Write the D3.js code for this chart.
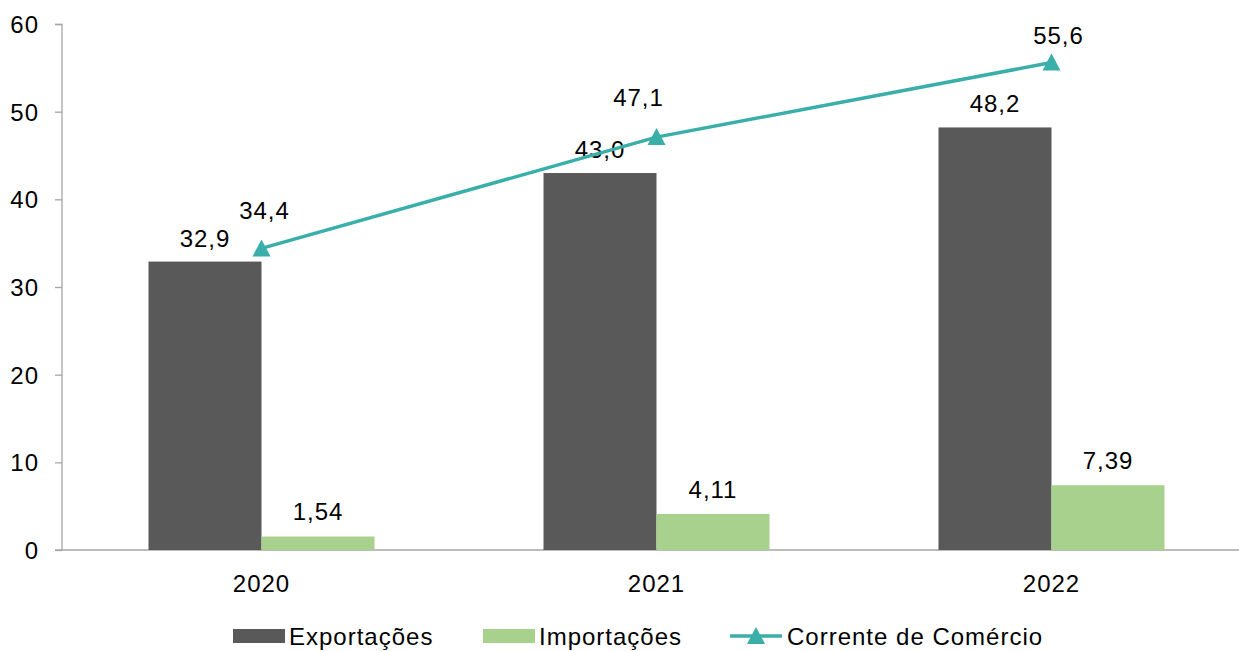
<!DOCTYPE html>
<html>
<head>
<meta charset="utf-8">
<script src="https://cdn.jsdelivr.net/npm/d3@7"></script>
<style>
  body { margin: 0; background: #fff; }
  svg text { font-family: "Liberation Sans", Arial, sans-serif; fill: #000; letter-spacing: 1px; }
</style>
</head>
<body>
<div id="chart"></div>
<script>
var anos = ["2020", "2021", "2022"];
var exportacoes = [32.9, 43.0, 48.2];
var importacoes = [1.54, 4.11, 7.39];
var corrente = [34.4, 47.1, 55.6];
var yTicks = [0, 10, 20, 30, 40, 50, 60];

var fmt1 = function(v) { return v.toFixed(1).replace(".", ","); };
var fmt2 = function(v) { return v.toFixed(2).replace(".", ","); };

var W = 1239, H = 651;
var margin = { top: 24, right: 0, bottom: 101, left: 62 };
var innerH = H - margin.top - margin.bottom;
var fs = "24px";

var svg = d3.select("#chart").append("svg")
    .attr("width", W)
    .attr("height", H);

var g = svg.append("g")
    .attr("transform", "translate(" + margin.left + "," + margin.top + ")");

var x = d3.scaleBand().domain(anos).range([2, 1187]).padding(0);
var y = d3.scaleLinear().domain([0, 60]).range([innerH, 0]);
var barW = 113;

// eixo y
var yAxis = g.append("g").call(d3.axisLeft(y).tickValues(yTicks).tickSize(7).tickPadding(16));
yAxis.selectAll("path, line").attr("stroke", "#a6a6a6").attr("stroke-width", 1.3);
yAxis.select("path").attr("d", "M-7,0.5H0V" + innerH);
yAxis.selectAll("text").style("font-size", fs).attr("dy", "0.35em");

// eixo x
var xAxis = g.append("g")
    .attr("transform", "translate(0," + innerH + ")")
    .call(d3.axisBottom(x).tickSize(0).tickPadding(25));
xAxis.select("path").attr("stroke", "#a6a6a6").attr("stroke-width", 1.3).attr("d", "M-7,0H1187");
xAxis.selectAll("text").style("font-size", fs);

// barras
g.selectAll(".exp").data(exportacoes).enter().append("rect")
    .attr("x", function(d, i) { return x(anos[i]) + x.bandwidth() / 2 - barW; })
    .attr("y", function(d) { return y(d); })
    .attr("width", barW)
    .attr("height", function(d) { return innerH - y(d); })
    .attr("fill", "#595959");

g.selectAll(".imp").data(importacoes).enter().append("rect")
    .attr("x", function(d, i) { return x(anos[i]) + x.bandwidth() / 2; })
    .attr("y", function(d) { return y(d); })
    .attr("width", barW)
    .attr("height", function(d) { return innerH - y(d); })
    .attr("fill", "#a9d18e");

g.selectAll(".expLbl").data(exportacoes).enter().append("text")
    .attr("x", function(d, i) { return x(anos[i]) + x.bandwidth() / 2 - barW / 2; })
    .attr("y", function(d) { return y(d) - 15; })
    .attr("text-anchor", "middle")
    .style("font-size", fs)
    .text(fmt1);

g.selectAll(".impLbl").data(importacoes).enter().append("text")
    .attr("x", function(d, i) { return x(anos[i]) + x.bandwidth() / 2 + barW / 2; })
    .attr("y", function(d) { return y(d) - 16; })
    .attr("text-anchor", "middle")
    .style("font-size", fs)
    .text(fmt2);

// linha
var cx = function(d, i) { return x(anos[i]) + x.bandwidth() / 2; };
var line = d3.line().x(cx).y(function(d) { return y(d); });
g.append("path").datum(corrente)
    .attr("d", line)
    .attr("fill", "none")
    .attr("stroke", "#3aaea9")
    .attr("stroke-width", 3.5);

var tri = "M0,-9L9,8L-9,8Z";
g.selectAll(".mk").data(corrente).enter().append("path")
    .attr("d", tri)
    .attr("fill", "#3aaea9")
    .attr("transform", function(d, i) { return "translate(" + cx(d, i) + "," + y(d) + ")"; });

// rótulos da linha (posição manual como no original)
var lblDx = [3, -18, 7];
var lblDy = [-29, -31, -19];
g.selectAll(".corLbl").data(corrente).enter().append("text")
    .attr("x", function(d, i) { return cx(d, i) + lblDx[i]; })
    .attr("y", function(d, i) { return y(d) + lblDy[i]; })
    .attr("text-anchor", "middle")
    .style("font-size", fs)
    .text(fmt1);

// legenda
var leg = svg.append("g").attr("transform", "translate(0,636)");
leg.append("rect").attr("x", 233).attr("y", -7).attr("width", 52).attr("height", 14).attr("fill", "#595959");
leg.append("text").attr("x", 289).attr("y", 9).style("font-size", fs).text("Exportações");
leg.append("rect").attr("x", 483).attr("y", -7).attr("width", 52).attr("height", 14).attr("fill", "#a9d18e");
leg.append("text").attr("x", 539).attr("y", 9).style("font-size", fs).text("Importações");
leg.append("line").attr("x1", 730).attr("x2", 782).attr("y1", 0).attr("y2", 0)
    .attr("stroke", "#3aaea9").attr("stroke-width", 3.5);
leg.append("path").attr("d", tri).attr("fill", "#3aaea9").attr("transform", "translate(756,0)");
leg.append("text").attr("x", 787).attr("y", 9).style("font-size", fs).text("Corrente de Comércio");
</script>
</body>
</html>
